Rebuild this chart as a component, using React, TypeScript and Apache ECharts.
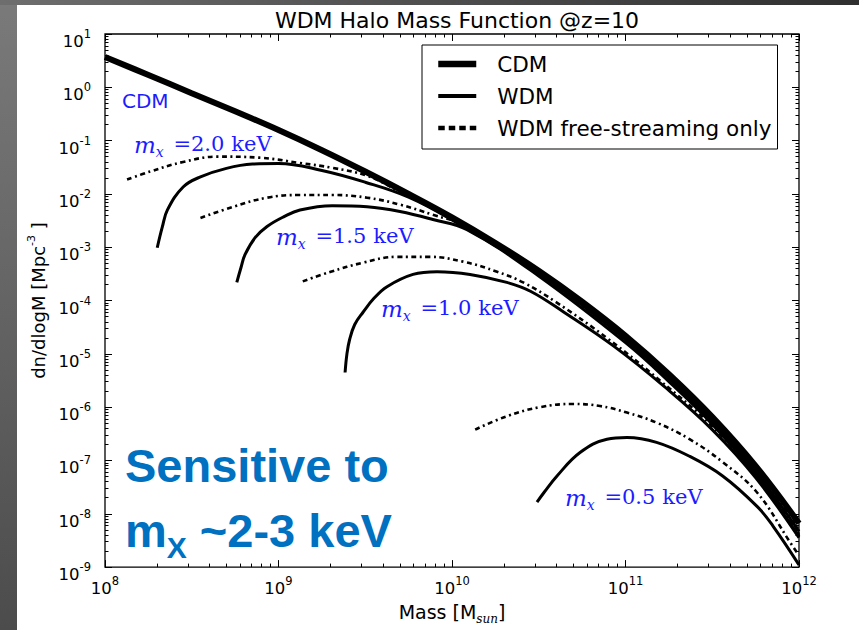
import React, { useEffect, useRef } from "react";
import * as echarts from "echarts";

// ---------------- data ----------------
const cdmMass = [1e8, 1.78e8, 3.16e8, 5.62e8, 1e9, 1.78e9, 3.16e9, 5.62e9, 1e10, 1.78e10, 3.16e10, 5.62e10, 1e11, 1.78e11, 3.16e11, 5.62e11, 1e12];
const cdmDensity = [3.72, 1.7, 0.776, 0.355, 0.158, 0.0661, 0.0263, 0.01, 3.63e-3, 1.2e-3, 3.63e-4, 9.55e-5, 2.19e-5, 4.17e-6, 6.61e-7, 7.94e-8, 6.61e-9];

const wdm20Mass = [2.0e8, 2.14e8, 2.29e8, 2.82e8, 3.55e8, 5.01e8, 7.08e8, 1e9, 1.78e9, 3.16e9, 5.62e9, 1e10, 3.16e10, 1e11, 1.78e11, 3.16e11, 5.62e11, 1e12];
const wdm20Density = [9.77e-4, 2.4e-3, 5.01e-3, 1.35e-2, 2.09e-2, 3.02e-2, 3.63e-2, 3.72e-2, 2.75e-2, 1.66e-2, 8.71e-3, 3.24e-3, 3.24e-4, 1.86e-5, 3.47e-6, 5.37e-7, 6.17e-8, 4.68e-9];
const fs20Mass = [1.34e8, 1.82e8, 2.82e8, 4.42e8, 7.76e8, 1.33e9, 2.04e9, 3.24e9, 5.01e9, 1e10, 3.16e10, 1e11, 1.78e11, 3.16e11, 5.62e11, 1e12];
const fs20Density = [1.86e-2, 2.63e-2, 3.98e-2, 5.01e-2, 4.79e-2, 3.8e-2, 3.09e-2, 2.19e-2, 1.1e-2, 3.39e-3, 3.31e-4, 1.95e-5, 3.63e-6, 5.75e-7, 6.76e-8, 5.01e-9];

const wdm15Mass = [5.75e8, 6.08e8, 6.41e8, 7.33e8, 8.59e8, 1.07e9, 1.33e9, 2.04e9, 3.24e9, 5.01e9, 7.76e9, 1.22e10, 3.16e10, 1e11, 1.78e11, 3.16e11, 5.62e11, 1e12];
const wdm15Density = [2.19e-4, 4.17e-4, 7.24e-4, 1.51e-3, 2.45e-3, 3.72e-3, 5.01e-3, 6.03e-3, 5.75e-3, 4.68e-3, 3.31e-3, 2.14e-3, 2.88e-4, 1.62e-5, 3.02e-6, 4.79e-7, 5.37e-8, 3.72e-9];
const fs15Mass = [3.55e8, 5.5e8, 8.59e8, 1.33e9, 2.04e9, 3.24e9, 5.01e9, 7.76e9, 1.22e10, 3.16e10, 1e11, 1.78e11, 3.16e11, 5.62e11, 1e12];
const fs15Density = [3.55e-3, 5.75e-3, 8.51e-3, 9.55e-3, 9.55e-3, 8.51e-3, 6.31e-3, 4.07e-3, 2.45e-3, 3.09e-4, 1.74e-5, 3.24e-6, 5.13e-7, 5.89e-8, 4.17e-9];

const wdm10Mass = [2.42e9, 2.48e9, 2.57e9, 2.75e9, 3.07e9, 3.55e9, 4.22e9, 5.96e9, 8.2e9, 1.27e10, 2.07e10, 2.85e10, 4.42e10, 8.59e10, 1.67e11, 3.16e11, 5.62e11, 1e12];
const wdm10Density = [4.47e-6, 1.0e-5, 1.86e-5, 3.55e-5, 6.03e-5, 1.1e-4, 1.82e-4, 3.09e-4, 3.47e-4, 3.09e-4, 2.19e-4, 1.48e-4, 6.03e-5, 1.38e-5, 2.45e-6, 3.8e-7, 4.79e-8, 3.55e-9];
const fs10Mass = [1.38e9, 2.0e9, 3.07e9, 4.79e9, 7.41e9, 1.16e10, 1.82e10, 2.57e10, 3.98e10, 7.94e10, 1.58e11, 3.16e11, 5.62e11, 1e12];
const fs10Density = [2.29e-4, 3.47e-4, 5.13e-4, 6.61e-4, 6.61e-4, 5.37e-4, 3.47e-4, 2.19e-4, 9.33e-5, 1.91e-5, 3.16e-6, 4.37e-7, 5.37e-8, 3.98e-9];

const wdm05Mass = [3.09e10, 3.39e10, 4.03e10, 5.47e10, 7.82e10, 1.02e11, 1.51e11, 2.34e11, 3.63e11, 5.73e11, 7.08e11, 1e12];
const wdm05Density = [1.66e-8, 2.51e-8, 5.13e-8, 1.41e-7, 2.51e-7, 2.69e-7, 2.19e-7, 1.2e-7, 5.13e-8, 1.38e-8, 5.89e-9, 1.1e-9];
const fs05Mass = [1.36e10, 2.07e10, 3.21e10, 4.98e10, 7.13e10, 1.02e11, 1.51e11, 2.34e11, 3.63e11, 5.73e11, 8.87e11, 1e12];
const fs05Density = [3.8e-7, 6.76e-7, 1.0e-6, 1.15e-6, 1.05e-6, 7.94e-7, 5.13e-7, 2.51e-7, 9.33e-8, 2.51e-8, 2.95e-9, 1.66e-9];

const xMajorTicks = [1e8, 1e9, 1e10, 1e11, 1e12];
const yMajorTicks = [1e-9, 1e-8, 1e-7, 1e-6, 1e-5, 1e-4, 1e-3, 1e-2, 1e-1, 1e0, 1e1];
const minorMultipliers = [2, 3, 4, 5, 6, 7, 8, 9];

const legendNames = ["CDM", "WDM", "WDM free-streaming only"];
const massLabels = ["2.0", "1.5", "1.0", "0.5"];

// ---------------- helpers ----------------
const minorOf = (majors: number[]) => {
  const out: number[] = [];
  for (let i = 0; i < majors.length - 1; i++) {
    for (const m of minorMultipliers) out.push(majors[i] * m);
  }
  return out;
};

const pairs = (mass: number[], dens: number[]) => mass.map((m, i) => [m, dens[i]]);

const powLabel = (v: number) => {
  const e = Math.round(Math.log10(v));
  return `{b|10}{s|${e}}`;
};

const tickRich = {
  b: { fontSize: 16.5, fontFamily: "DejaVu Sans", color: "#000", lineHeight: 22, verticalAlign: "bottom" },
  s: { fontSize: 11.5, fontFamily: "DejaVu Sans", color: "#000", lineHeight: 10, verticalAlign: "top" },
};

const BLUE = "#1c1cff";

const mxLabel = (val: string, x: number, y: number) => ({
  type: "text",
  x,
  y,
  silent: true,
  style: {
    text: `{m|m}{x|x}{t| =${val}}{k|keV}`,
    rich: {
      m: { fontFamily: "DejaVu Serif", fontStyle: "italic", fontSize: 23, lineHeight: 24, verticalAlign: "top", fill: BLUE },
      x: { fontFamily: "DejaVu Serif", fontStyle: "italic", fontSize: 14, lineHeight: 14, padding: [12, 0, 0, 0], verticalAlign: "top", fill: BLUE },
      t: { fontFamily: "DejaVu Serif", fontSize: 21, lineHeight: 24, verticalAlign: "top", fill: BLUE, padding: [0, 0, 0, 3] },
      k: { fontFamily: "DejaVu Serif", fontSize: 21, lineHeight: 24, verticalAlign: "top", fill: BLUE, padding: [0, 0, 0, 7] },
    },
  },
});

export default function App() {
  const ref = useRef<HTMLDivElement | null>(null);

  useEffect(() => {
    if (!ref.current) return;
    const chart = echarts.init(ref.current, undefined, { renderer: "svg" });

    const xMinor = minorOf(xMajorTicks);
    const yMinor = minorOf(yMajorTicks);

    const hiddenLabel = { show: false };
    const tickStyle = { color: "#000", width: 1 };

    const xBase = { type: "log", logBase: 10, min: 1e8, max: 1e12, gridIndex: 0, splitLine: { show: false }, minorTick: { show: false }, axisLine: { show: false } };
    const yBase = { type: "log", logBase: 10, min: 1e-9, max: 10, gridIndex: 0, splitLine: { show: false }, minorTick: { show: false }, axisLine: { show: false } };

    const solid = { color: "#000", width: 3 };
    const fsStyle = { color: "#000", width: 2.6, type: [5, 3.5, 2, 3.5], cap: "butt" };

    const lineSeries = (name: string, mass: number[], dens: number[], style: any, z = 2) => ({
      type: "line",
      name,
      data: pairs(mass, dens),
      showSymbol: false,
      symbol: "none",
      smooth: 0.4,
      color: "#000",
      lineStyle: style,
      silent: true,
      z,
    });

    const option: any = {
      animation: false,
      backgroundColor: "#ffffff",
      title: {
        text: "WDM Halo Mass Function @z=10",
        left: 452,
        top: 4,
        textAlign: "center",
        textStyle: { fontSize: 22, fontWeight: "normal", fontFamily: "DejaVu Sans", color: "#000" },
      },
      grid: {
        left: 105,
        top: 34,
        width: 694,
        height: 534,
        show: true,
        borderColor: "#000",
        borderWidth: 1.3,
        backgroundColor: "transparent",
        containLabel: false,
      },
      legend: {
        show: true,
        orient: "vertical",
        left: 422,
        top: 45,
        selectedMode: false,
        data: [
          { name: legendNames[0], lineStyle: { width: 6.5, color: "#000" } },
          { name: legendNames[1], lineStyle: { width: 4, color: "#000" } },
          { name: legendNames[2], lineStyle: { width: 4.5, type: [6.5, 4], color: "#000" } },
        ],
        itemWidth: 38,
        itemHeight: 20,
        itemGap: 10,
        padding: [8, 6, 10, 13],
        borderColor: "#000",
        borderWidth: 1,
        backgroundColor: "#fff",
        itemStyle: { color: "transparent", opacity: 0, borderWidth: 0 },
        textStyle: { fontSize: 21.5, fontFamily: "DejaVu Sans", color: "#000", padding: [0, 0, 0, 16] },
      },
      xAxis: [
        {
          ...xBase,
          position: "bottom",
          axisTick: { show: true, inside: true, length: 7, lineStyle: tickStyle, customValues: xMajorTicks },
          axisLabel: { show: true, margin: 8, customValues: xMajorTicks, formatter: powLabel, rich: tickRich },
          name: "{n|Mass [M}{s|sun}{n|]}",
          nameLocation: "middle",
          nameGap: 31,
          nameTextStyle: {
            rich: {
              n: { fontSize: 19, fontFamily: "DejaVu Sans", color: "#000", lineHeight: 22, verticalAlign: "top" },
              s: { fontSize: 12, fontFamily: "DejaVu Serif", fontStyle: "italic", color: "#000", lineHeight: 12, padding: [11, 0, 0, 0], verticalAlign: "top" },
            },
          },
        },
        { ...xBase, position: "bottom", axisTick: { show: true, inside: true, length: 3.5, lineStyle: tickStyle, customValues: xMinor }, axisLabel: hiddenLabel },
        { ...xBase, position: "top", axisTick: { show: true, inside: true, length: 7, lineStyle: tickStyle, customValues: xMajorTicks }, axisLabel: hiddenLabel },
        { ...xBase, position: "top", axisTick: { show: true, inside: true, length: 3.5, lineStyle: tickStyle, customValues: xMinor }, axisLabel: hiddenLabel },
      ],
      yAxis: [
        {
          ...yBase,
          position: "left",
          axisTick: { show: true, inside: true, length: 7, lineStyle: tickStyle, customValues: yMajorTicks },
          axisLabel: { show: true, margin: 14, customValues: yMajorTicks, formatter: powLabel, rich: tickRich, padding: [10, 0, 0, 0] },
          name: "{n|dn/dlogM [Mpc}{p|-3}{n| ]}",
          nameLocation: "middle",
          nameGap: 56,
          nameRotate: 90,
          nameTextStyle: {
            rich: {
              n: { fontSize: 18, fontFamily: "DejaVu Sans", color: "#000", lineHeight: 22, verticalAlign: "bottom" },
              p: { fontSize: 11, fontFamily: "DejaVu Sans", color: "#000", lineHeight: 10, verticalAlign: "top" },
            },
          },
        },
        { ...yBase, position: "left", axisTick: { show: true, inside: true, length: 3.5, lineStyle: tickStyle, customValues: yMinor }, axisLabel: hiddenLabel },
        { ...yBase, position: "right", axisTick: { show: true, inside: true, length: 7, lineStyle: tickStyle, customValues: yMajorTicks }, axisLabel: hiddenLabel },
        { ...yBase, position: "right", axisTick: { show: true, inside: true, length: 3.5, lineStyle: tickStyle, customValues: yMinor }, axisLabel: hiddenLabel },
      ],
      series: [
        lineSeries(legendNames[0], cdmMass, cdmDensity, { color: "#000", width: 6 }, 5),
        lineSeries(legendNames[1], wdm20Mass, wdm20Density, solid),
        lineSeries(legendNames[1], wdm15Mass, wdm15Density, solid),
        lineSeries(legendNames[1], wdm10Mass, wdm10Density, solid),
        lineSeries(legendNames[1], wdm05Mass, wdm05Density, solid),
        lineSeries(legendNames[2], fs20Mass, fs20Density, fsStyle),
        lineSeries(legendNames[2], fs15Mass, fs15Density, fsStyle),
        lineSeries(legendNames[2], fs10Mass, fs10Density, fsStyle),
        lineSeries(legendNames[2], fs05Mass, fs05Density, fsStyle),
      ],
      graphic: [
        {
          type: "rect",
          silent: true,
          shape: { x: 0, y: 0, width: 17, height: 630 },
          style: { fill: new echarts.graphic.LinearGradient(0, 0, 0, 1, [{ offset: 0, color: "#7a7a7a" }, { offset: 1, color: "#4c4c4c" }]) },
        },
        {
          type: "rect",
          silent: true,
          shape: { x: 0, y: 0, width: 859, height: 5 },
          style: { fill: new echarts.graphic.LinearGradient(0, 0, 1, 0, [{ offset: 0, color: "#6e6e6e" }, { offset: 1, color: "#2f2f2f" }]) },
        },
        {
          type: "text",
          x: 122,
          y: 101,
          silent: true,
          style: { text: "CDM", fontFamily: "DejaVu Sans", fontSize: 20, fill: BLUE, verticalAlign: "middle", align: "left" },
        },
        mxLabel(massLabels[0], 134, 133),
        mxLabel(massLabels[1], 276, 225),
        mxLabel(massLabels[2], 381, 297),
        mxLabel(massLabels[3], 565, 486),
        {
          type: "text",
          x: 125,
          y: 465,
          silent: true,
          style: { text: "Sensitive to", fontFamily: "Liberation Sans", fontWeight: "bold", fontSize: 47, fill: "#0070c0", verticalAlign: "middle", align: "left" },
        },
        {
          type: "text",
          x: 125,
          y: 507,
          silent: true,
          style: {
            text: "{m|m}{x|X}{r| ~2-3 keV}",
            rich: {
              m: { fontFamily: "Liberation Sans", fontWeight: "bold", fontSize: 47, lineHeight: 50, verticalAlign: "top", fill: "#0070c0" },
              x: { fontFamily: "Liberation Sans", fontWeight: "bold", fontSize: 30, lineHeight: 30, padding: [25, 0, 0, 0], verticalAlign: "top", fill: "#0070c0" },
              r: { fontFamily: "Liberation Sans", fontWeight: "bold", fontSize: 47, lineHeight: 50, verticalAlign: "top", fill: "#0070c0" },
            },
          },
        },
      ],
    };

    chart.setOption(option);
    return () => chart.dispose();
  }, []);

  return <div ref={ref} style={{ position: "absolute", left: 0, top: 0, width: 859, height: 630 }} />;
}
